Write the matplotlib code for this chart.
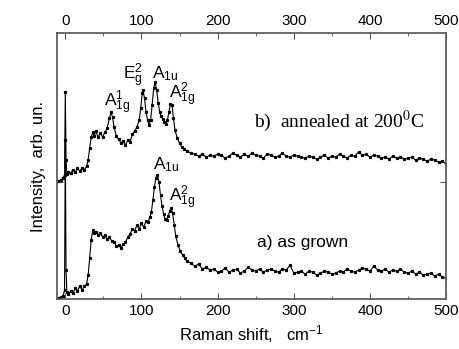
import matplotlib
matplotlib.use("Agg")
import matplotlib.pyplot as plt
from matplotlib.ticker import MultipleLocator

# Raman shift (cm-1), as grown sample
shift_a = [-10, -6, -3, -1, 0, 1, 2, 4, 7, 10, 13, 16, 19, 22, 25, 28, 30, 32, 34, 36,
           38, 40, 43, 46, 49, 52, 55, 58, 61, 64, 67, 70, 73, 76, 79, 82, 85, 88, 91, 94,
           97, 100, 103, 106, 109, 111, 113, 115, 117, 119, 121, 123, 125, 127, 129, 131,
           133, 135, 137, 139, 141, 143, 145, 148, 151, 154, 157, 160, 165, 170, 175, 180,
           185, 190, 195, 200, 205, 210, 215, 220, 225, 230, 235, 240, 245, 250, 255, 260,
           265, 270, 275, 280, 285, 290, 295, 300, 305, 310, 315, 320, 325, 330, 335, 340,
           345, 350, 355, 360, 365, 370, 375, 380, 385, 390, 395, 400, 405, 410, 415, 420,
           425, 430, 435, 440, 445, 450, 455, 460, 465, 470, 475, 480, 485, 490, 495, 500]
int_a = [1, 2, 3, 9, 159, 29, 7, 5, 8, 6, 11, 8, 13, 9, 13, 15, 24, 41, 59, 69,
         66, 67, 64, 66, 62, 64, 60, 62, 58, 57, 53, 54, 51, 55, 57, 62, 65, 70, 68, 74,
         70, 76, 72, 78, 77, 82, 87, 99, 112, 121, 124, 117, 104, 93, 85, 80,
         79, 83, 88, 91, 86, 74, 63, 54, 48, 44, 41, 38, 36, 33, 35, 30,
         32, 29, 30, 27, 28, 31, 27, 29, 30, 26, 28, 32, 29, 28, 30, 27,
         29, 30, 28, 27, 30, 29, 34, 26, 27, 28, 25, 28, 27, 24, 26, 28,
         27, 25, 26, 28, 27, 30, 28, 27, 29, 31, 30, 28, 33, 29, 28, 30,
         27, 29, 28, 30, 27, 26, 28, 25, 27, 24, 25, 26, 23, 25, 22, 21]

# Raman shift (cm-1), annealed at 200 C
shift_b = [-10, -6, -3, -1, 0, 1, 2, 4, 7, 10, 13, 16, 19, 22, 25, 28, 30, 32, 34, 36,
           38, 40, 43, 46, 49, 52, 55, 58, 60, 62, 64, 67, 70, 73, 76, 79, 82, 85, 88, 91,
           94, 97, 99, 101, 102, 104, 106, 108, 110, 112, 114, 116, 118, 120, 122, 124, 126,
           128, 130, 132, 134, 136, 138, 140, 142, 144, 147, 150, 153, 156, 160, 165, 170,
           175, 180, 185, 190, 195, 200, 205, 210, 215, 220, 225, 230, 235, 240, 245, 250,
           255, 260, 265, 270, 275, 280, 285, 290, 295, 300, 305, 310, 315, 320, 325, 330,
           335, 340, 345, 350, 355, 360, 365, 370, 375, 380, 385, 390, 395, 400, 405, 410,
           415, 420, 425, 430, 435, 440, 445, 450, 455, 460, 465, 470, 475, 480, 485, 490,
           495, 500]
int_b = [118, 119, 121, 124, 207, 139, 125, 127, 126, 129, 127, 131, 128, 131, 129, 133, 139, 151, 162, 167,
         163, 168, 162, 166, 162, 167, 171, 181, 187, 182, 172, 163, 160, 156, 158, 154, 159, 157, 165, 168,
         172, 179, 191, 206, 209, 201, 187, 179, 174, 179, 194, 211, 217, 209, 196, 187, 183,
         180, 177, 175, 179, 187, 195, 194, 181, 169, 161, 156, 152, 150, 148, 146, 145,
         143, 145, 142, 144, 143, 145, 144, 141, 143, 146, 144, 142, 145, 143, 146, 144,
         143, 141, 145, 144, 142, 143, 146, 143, 142, 144, 143, 142, 141, 143, 142, 140,
         142, 144, 141, 143, 142, 145, 143, 141, 144, 143, 147, 144, 145, 142, 144, 143,
         141, 142, 140, 143, 141, 142, 140, 141, 142, 139, 141, 140, 138, 140, 139, 137,
         138, 135]

x_ticks = [0, 100, 200, 300, 400, 500]

plt.rcParams['font.family'] = ['Liberation Sans', 'DejaVu Sans']
plt.rcParams['mathtext.fontset'] = 'custom'
plt.rcParams['mathtext.rm'] = 'Liberation Sans'
plt.rcParams['mathtext.it'] = 'Liberation Sans'

fig = plt.figure(figsize=(4.59, 3.49), dpi=100)
ax = fig.add_axes([0.124, 0.143, 0.848, 0.762])

ax.plot(shift_a, int_a, '-', color='black', lw=0.8, marker='s', ms=1.3)
ax.plot(shift_b, int_b, '-', color='black', lw=0.8, marker='s', ms=1.3)

ax.set_xlim(-11, 500)
ax.set_ylim(0, 266)
ax.set_xticks(x_ticks)
ax.xaxis.set_minor_locator(MultipleLocator(50))
ax.set_yticks([117])
ax.set_yticklabels([])
ax.tick_params(axis='x', which='both', direction='in', top=True, labeltop=True,
               labelsize=11, color='#505050')
ax.tick_params(axis='x', which='major', length=4)
ax.tick_params(axis='x', which='minor', length=2.5)
ax.tick_params(axis='y', direction='in', right=True, length=4, color='#505050')
for s in ax.spines.values():
    s.set_color('#606060')
    s.set_linewidth(1.3)

ax.set_xlabel('Raman shift,   cm$^{-1}$', fontsize=12)
ax.set_ylabel('Intensity,  arb. un.', fontsize=12)

# peak labels
ax.text(68, 196, r'A$_{1g}^{1}$', fontsize=12.5, ha='center', va='center')
ax.text(89, 223, r'E$_{g}^{2}$', fontsize=12.5, ha='center', va='center')
ax.text(131, 225, r'A$_{1u}$', fontsize=12.5, ha='center', va='center')
ax.text(154, 204, r'A$_{1g}^{2}$', fontsize=12.5, ha='center', va='center')
ax.text(133, 134, r'A$_{1u}$', fontsize=12.5, ha='center', va='center')
ax.text(153, 101, r'A$_{1g}^{2}$', fontsize=12.5, ha='center', va='center')

ax.text(360, 178, 'b)  annealed at 200$^{0}$C', fontsize=14, ha='center', va='center',
        family='Liberation Serif', math_fontfamily='stix')
ax.text(312, 57, 'a) as grown', fontsize=12.5, ha='center', va='center')

fig.savefig('out.png', dpi=100)
